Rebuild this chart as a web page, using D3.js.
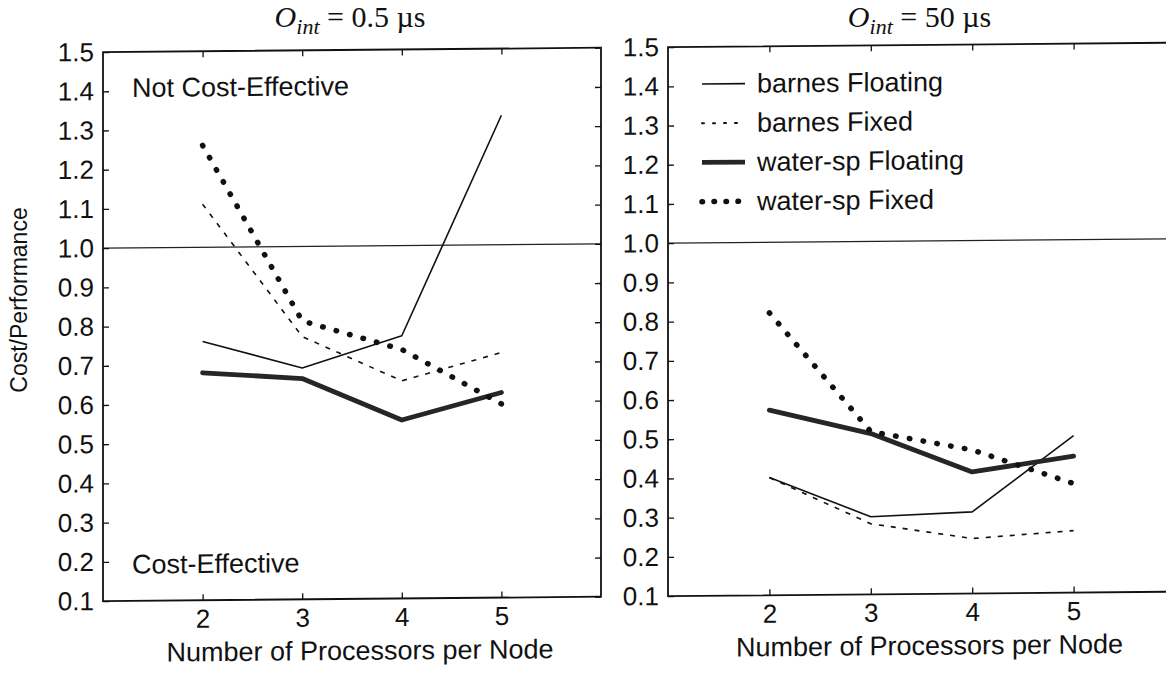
<!DOCTYPE html>
<html><head><meta charset="utf-8">
<script src="https://cdn.jsdelivr.net/npm/d3@7"></script>
<style>body{margin:0;background:#fff}svg{display:block}</style>
</head><body>
<svg id="c" width="1166" height="679"></svg>
<script>
// ---- data ----
const processors = [2, 3, 4, 5];
const xTickValues = [2, 3, 4, 5];
const yTickValues = [0.1,0.2,0.3,0.4,0.5,0.6,0.7,0.8,0.9,1.0,1.1,1.2,1.3,1.4,1.5];
const panelTitleValues = ["0.5", "50"];
const seriesNames = ["barnes Floating", "barnes Fixed", "water-sp Floating", "water-sp Fixed"];
const leftBarnesFloating = [0.76, 0.69, 0.77, 1.33];
const leftBarnesFixed    = [1.11, 0.77, 0.655, 0.725];
const leftWaterFloating  = [0.68, 0.663, 0.555, 0.623];
const leftWaterFixed     = [1.26, 0.81, 0.735, 0.594];
const rightBarnesFloating = [0.40, 0.298, 0.308, 0.50];
const rightBarnesFixed    = [0.40, 0.28, 0.24, 0.258];
const rightWaterFloating  = [0.572, 0.51, 0.41, 0.448];
const rightWaterFixed     = [0.82, 0.515, 0.466, 0.378];
const thresholdValue = 1.0;

const styles = [
  {w:1.6, dash:null, cap:"butt", color:"#111"},
  {w:1.6, dash:"5,7", cap:"butt", color:"#111"},
  {w:4.8, dash:null, cap:"round", color:"#262626"},
  {w:5.5, dash:"0.5,13.5", cap:"round", color:"#111"}
];
const legendDash = [null, "2,9", null, "0.5,11.5"];

const svg = d3.select("#c");
const skew = 0.0088;
const root = svg.append("g").attr("transform",`matrix(1,${-skew},0,1,0,0)`);
const sans = "'Liberation Sans', Arial, Helvetica, sans-serif";
const serif = "'Liberation Serif', 'Times New Roman', serif";

const panels = [
  {x0:103, x1:601, data:[leftBarnesFloating,leftBarnesFixed,leftWaterFloating,leftWaterFixed], title:panelTitleValues[0], left:true},
  {x0:668, x1:1175, data:[rightBarnesFloating,rightBarnesFixed,rightWaterFloating,rightWaterFixed], title:panelTitleValues[1], left:false}
];
const plotTop = 53, plotBottom = 602;

panels.forEach(p => {
  const x = d3.scaleLinear().domain([1,6]).range([p.x0,p.x1]);
  const y = d3.scaleLinear().domain([0.1,1.5]).range([plotBottom,plotTop]);
  const g = root.append("g");

  g.append("line").attr("x1",p.x0).attr("x2",p.x1)
    .attr("y1",y(thresholdValue)).attr("y2",y(thresholdValue))
    .attr("stroke","#222").attr("stroke-width",1.3);

  const yl = g.append("g").attr("transform",`translate(${p.x0},0)`)
    .call(d3.axisLeft(y).tickValues(yTickValues).tickFormat(d3.format(".1f")).tickSizeInner(-6).tickSizeOuter(0).tickPadding(9));
  const yr = g.append("g").attr("transform",`translate(${p.x1},0)`)
    .call(d3.axisRight(y).tickValues(yTickValues).tickFormat("").tickSizeInner(-6).tickSizeOuter(0));
  const xb = g.append("g").attr("transform",`translate(0,${plotBottom})`)
    .call(d3.axisBottom(x).tickValues(xTickValues).tickFormat(d3.format("d")).tickSizeInner(-6).tickSizeOuter(0).tickPadding(9));
  const xt = g.append("g").attr("transform",`translate(0,${plotTop})`)
    .call(d3.axisTop(x).tickValues(xTickValues).tickFormat("").tickSizeInner(-6).tickSizeOuter(0));
  [yl,yr,xb,xt].forEach(a => {
    a.select(".domain").remove();
    a.selectAll("line").attr("stroke","#111").attr("stroke-width",1.3);
    a.selectAll("text").attr("font-family",sans).attr("font-size",26).attr("fill","#111");
  });

  g.append("rect").attr("x",p.x0).attr("y",plotTop).attr("width",p.x1-p.x0).attr("height",plotBottom-plotTop)
    .attr("fill","none").attr("stroke","#111").attr("stroke-width",1.8);

  const line = d3.line().x((d,i)=>x(processors[i])).y(d=>y(d));
  p.data.forEach((vals,k) => {
    const s = styles[k];
    g.append("path").attr("d",line(vals)).attr("fill","none")
      .attr("stroke",s.color).attr("stroke-width",s.w)
      .attr("stroke-linecap",s.cap).attr("stroke-linejoin","round")
      .attr("stroke-dasharray",s.dash);
  });

  // title (drawn unskewed)
  const t = svg.append("text").attr("x",(p.x0+p.x1)/2 - 2).attr("y",27)
    .attr("text-anchor","middle").attr("font-family",serif).attr("font-size",30).attr("fill","#111");
  t.append("tspan").attr("font-style","italic").text("O");
  t.append("tspan").attr("font-style","italic").attr("font-size",22).attr("dy",7).text("int");
  t.append("tspan").attr("dy",-7).text(" = " + p.title + " \u00b5s");

  g.append("text").attr("x",(p.x0+p.x1)/2 + 8).attr("y",663).attr("text-anchor","middle")
    .attr("font-family",sans).attr("font-size",27).attr("fill","#111")
    .text("Number of Processors per Node");

  if (p.left) {
    g.append("text").attr("x",p.x0+29).attr("y",y(1.4)+6)
      .attr("font-family",sans).attr("font-size",27).attr("fill","#111").text("Not Cost-Effective");
    g.append("text").attr("x",p.x0+29).attr("y",y(0.2)+12)
      .attr("font-family",sans).attr("font-size",27).attr("fill","#111").text("Cost-Effective");
  } else {
    seriesNames.forEach((name,k) => {
      const yy = y(1.4 - k*0.1) - 2;
      const s = styles[k];
      g.append("line").attr("x1",p.x0+34).attr("x2",p.x0+77).attr("y1",yy).attr("y2",yy)
        .attr("stroke",s.color).attr("stroke-width",k===1?2:s.w)
        .attr("stroke-linecap",k===1||k===3?"round":"butt")
        .attr("stroke-dasharray",legendDash[k]);
      g.append("text").attr("x",p.x0+89).attr("y",yy+9)
        .attr("font-family",sans).attr("font-size",27).attr("fill","#111").text(name);
    });
  }
});

svg.append("text").attr("transform","translate(27,300) rotate(-90)")
  .attr("text-anchor","middle").attr("font-family",sans).attr("font-size",23).attr("fill","#111")
  .text("Cost/Performance");
</script>
</body></html>
